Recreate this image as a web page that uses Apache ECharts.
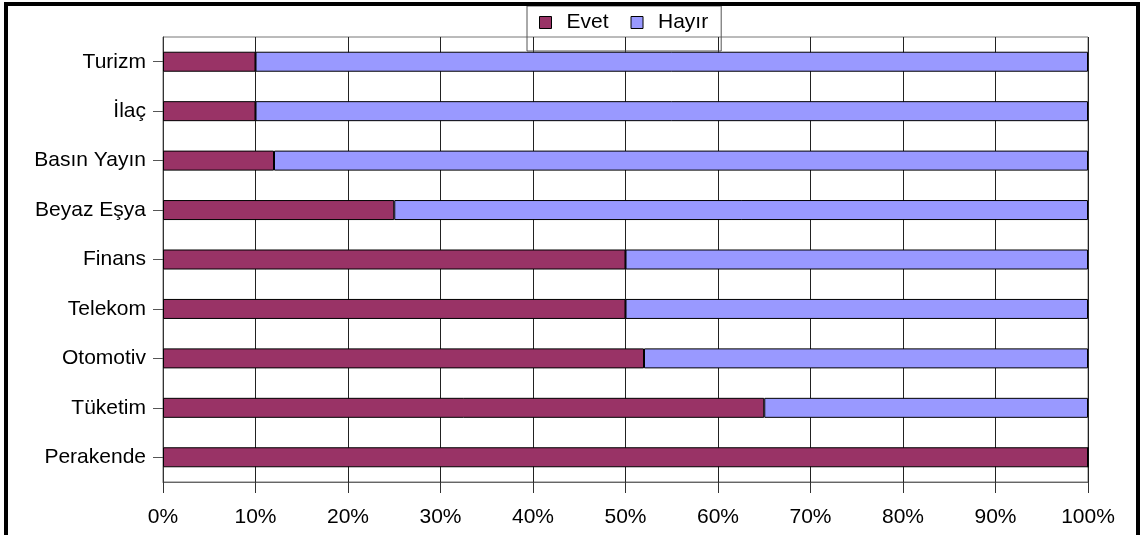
<!DOCTYPE html>
<html>
<head>
<meta charset="utf-8">
<script src="https://cdn.jsdelivr.net/npm/echarts@6/dist/echarts.min.js"></script>
<style>
  html, body { margin: 0; padding: 0; background: #fff; }
  #chart { width: 1140px; height: 535px; }
</style>
</head>
<body>
<div id="chart"></div>
<script>
// sectors, top to bottom
const categories = ['Turizm', 'İlaç', 'Basın Yayın', 'Beyaz Eşya', 'Finans', 'Telekom', 'Otomotiv', 'Tüketim', 'Perakende'];
const evet = [10, 10, 12, 25, 50, 50, 52, 65, 100];
const hayir = [90, 90, 88, 75, 50, 50, 48, 35, 0];
const xTicks = [0, 10, 20, 30, 40, 50, 60, 70, 80, 90, 100];

const font = "'Liberation Sans', Arial, sans-serif";

const chart = echarts.init(document.getElementById('chart'));

chart.setOption({
  animation: false,
  textStyle: { fontFamily: font },
  graphic: [{
    type: 'rect',
    shape: { x: 6, y: 4, width: 1132, height: 600 },
    style: { fill: 'none', stroke: '#000', lineWidth: 4 },
    z: 100
  }],
  legend: {
    left: 527,
    top: 6,
    padding: [6, 13, 18, 12],
    borderColor: '#555',
    borderWidth: 1,
    itemWidth: 12,
    itemHeight: 12,
    itemGap: 22,
    icon: 'rect',
    itemStyle: { borderColor: '#000', borderWidth: 1 },
    textStyle: { fontSize: 21, color: '#000', fontFamily: font, padding: [0, 0, 0, 10] },
    data: ['Evet', 'Hayır']
  },
  grid: {
    left: 163,
    right: 52,
    top: 37,
    bottom: 53,
    show: true,
    borderColor: '#777',
    borderWidth: 1
  },
  xAxis: {
    type: 'value',
    min: xTicks[0],
    max: xTicks[xTicks.length - 1],
    interval: 10,
    axisLine: { show: true, lineStyle: { color: '#666' } },
    axisTick: { show: true, length: 11, lineStyle: { color: '#333' } },
    splitLine: { show: true, lineStyle: { color: '#222', width: 1 } },
    axisLabel: { formatter: '{value}%', fontSize: 21, color: '#000', margin: 25, fontFamily: font }
  },
  yAxis: {
    type: 'category',
    inverse: true,
    data: categories,
    axisLine: { show: true, lineStyle: { color: '#333' } },
    axisTick: { show: true, length: 10, alignWithLabel: true, lineStyle: { color: '#555' } },
    axisLabel: { fontSize: 21, color: '#000', margin: 17, fontFamily: font }
  },
  series: [
    {
      name: 'Evet',
      type: 'bar',
      stack: 'total',
      barWidth: 20,
      data: evet,
      itemStyle: { color: '#993366', borderColor: '#000', borderWidth: 1 }
    },
    {
      name: 'Hayır',
      type: 'bar',
      stack: 'total',
      barWidth: 20,
      data: hayir,
      itemStyle: { color: '#9999FF', borderColor: '#000', borderWidth: 1 }
    }
  ]
});
</script>
</body>
</html>
